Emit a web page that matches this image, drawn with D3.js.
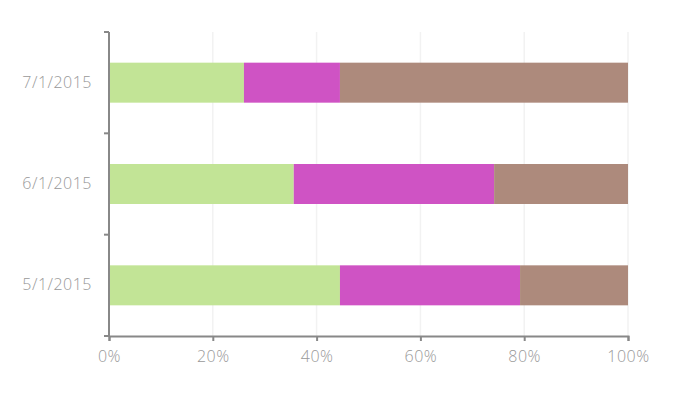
<!DOCTYPE html>
<html><head><meta charset="utf-8">
<script src="https://cdn.jsdelivr.net/npm/d3@7"></script>
<style>body{margin:0;background:#fff}</style>
</head><body>
<script>
const categories = ["5/1/2015", "6/1/2015", "7/1/2015"];
const seriesA = [44.5, 35.6, 26.0];
const seriesB = [34.7, 38.6, 18.5];
const seriesC = [20.8, 25.8, 55.5];
const xTicks = [0, 20, 40, 60, 80, 100];
const colors = ["#c2e496", "#cf53c4", "#ad8a7c"];

const W = 681, H = 393;
const m = {l: 109, r: 53, t: 32, b: 57};
const svg = d3.select("body").append("svg").attr("width", W).attr("height", H);
const x = d3.scaleLinear().domain([0, 100]).range([m.l, W - m.r]);
const y = d3.scaleBand().domain(categories.slice().reverse()).range([m.t, H - m.b]).paddingInner(0).paddingOuter(0);
const barH = 40;

// gridlines
svg.append("g").selectAll("line").data(xTicks.slice(1)).join("line")
  .attr("x1", d => x(d)).attr("x2", d => x(d)).attr("y1", m.t).attr("y2", H - m.b)
  .attr("stroke", "#f2f2f2").attr("stroke-width", 1.5);

const stackData = categories.map((c, i) => ({cat: c, a: seriesA[i], b: seriesB[i], c: seriesC[i]}));
const stack = d3.stack().keys(["a", "b", "c"])(stackData);
svg.append("g").selectAll("g").data(stack).join("g").attr("fill", (d, i) => colors[i])
  .selectAll("rect").data(d => d).join("rect")
  .attr("x", d => x(d[0])).attr("width", d => x(d[1]) - x(d[0]))
  .attr("y", d => y(d.data.cat) + y.bandwidth() / 2 - barH / 2).attr("height", barH);

const axisColor = "#888";
const textColor = "#999";
const font = "'Open Sans', sans-serif";
const fs = 16;

// x axis
const xa = svg.append("g").attr("transform", `translate(0,${H - m.b})`)
  .call(d3.axisBottom(x).tickValues(xTicks).tickFormat(d => d + "%").tickSize(5).tickSizeOuter(5).tickPadding(10));
xa.select(".domain").attr("stroke", axisColor).attr("stroke-width", 2);
xa.selectAll(".tick line").attr("stroke", axisColor).attr("stroke-width", 2);
xa.selectAll("text").attr("fill", textColor).attr("font-family", font).attr("font-size", fs)
  .attr("font-weight", 300).attr("letter-spacing", "0.5px");

// y axis
const ya = svg.append("g").attr("transform", `translate(${m.l},0)`)
  .call(d3.axisLeft(y).tickSize(0).tickPadding(17));
ya.select(".domain").remove();
ya.selectAll("text").attr("fill", textColor).attr("font-family", font).attr("font-size", fs)
  .attr("font-weight", 300).attr("letter-spacing", "0.5px");
svg.append("line").attr("x1", m.l).attr("x2", m.l).attr("y1", m.t).attr("y2", H - m.b)
  .attr("stroke", axisColor).attr("stroke-width", 2);
const bounds = y.domain().map(d => y(d)).concat([y.range()[1]]);
svg.append("g").selectAll("line").data(bounds).join("line")
  .attr("x1", m.l - 5).attr("x2", m.l).attr("y1", d => d).attr("y2", d => d)
  .attr("stroke", axisColor).attr("stroke-width", 2);
</script>
</body></html>
